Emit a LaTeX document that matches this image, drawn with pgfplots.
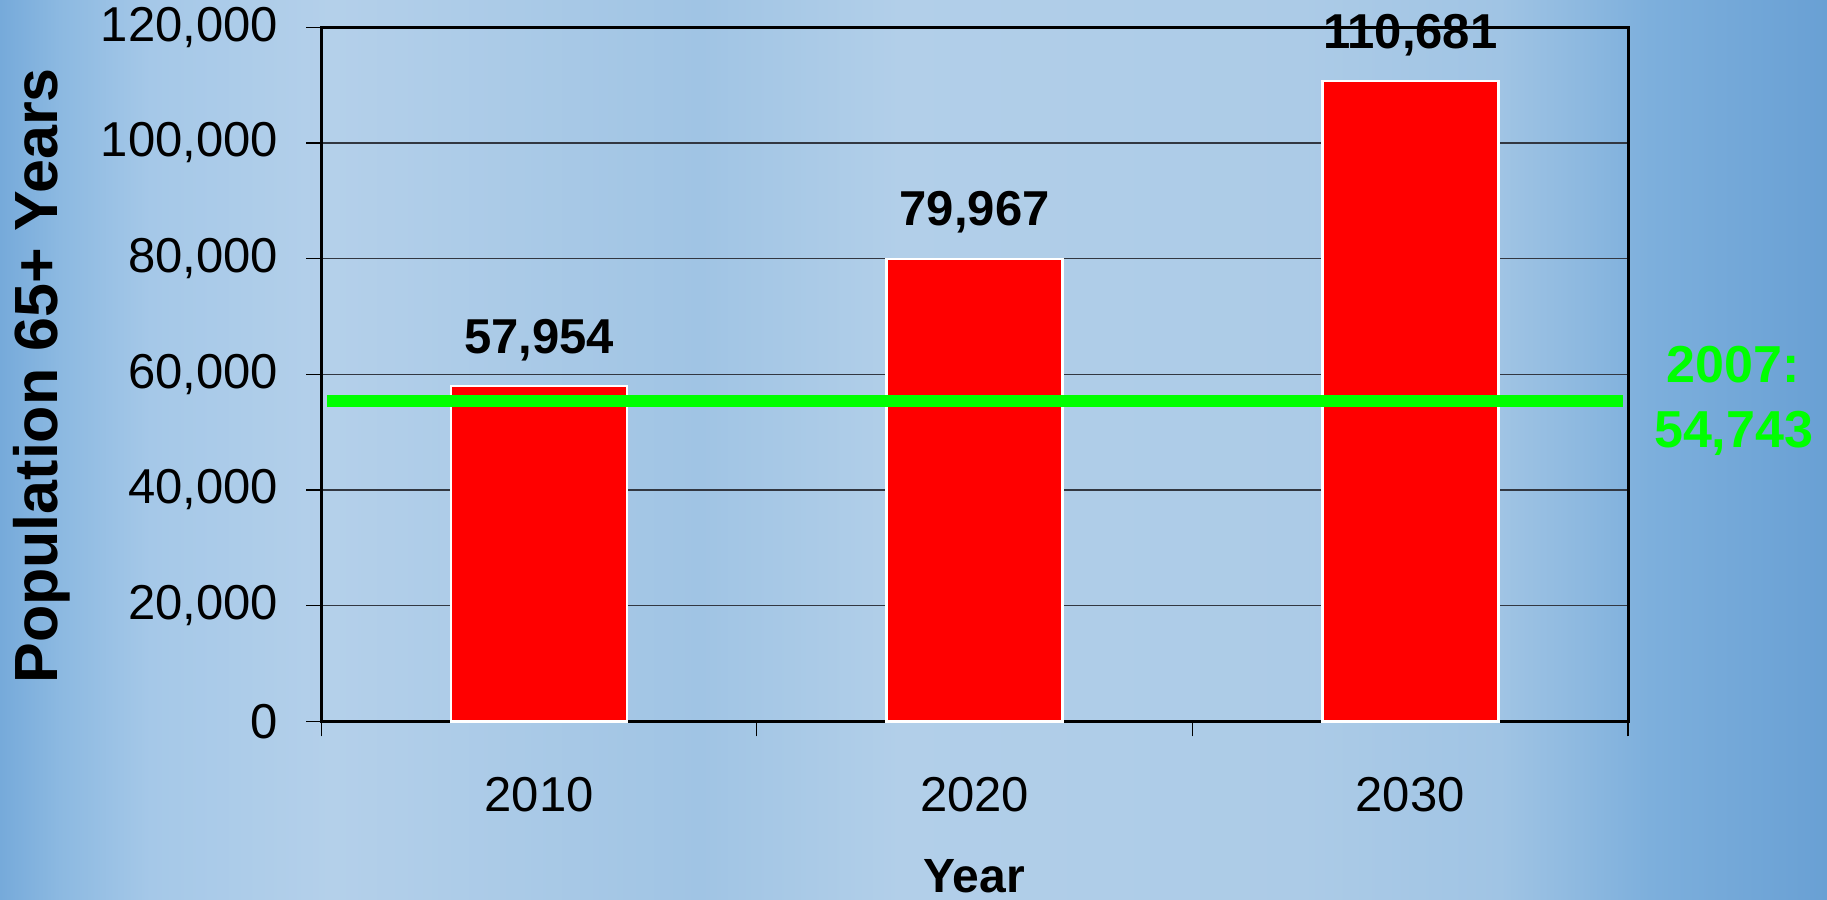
\documentclass[border=0pt]{standalone}
\usepackage{fontspec}
\setmainfont{Liberation Sans}
\usepackage{pgfplots}
\pgfplotsset{compat=1.18}
\definecolor{barred}{RGB}{255,0,0}
\definecolor{lgreen}{RGB}{0,255,0}
\definecolor{gridc}{RGB}{50,55,65}
\definecolor{b0}{RGB}{118,170,218}
\definecolor{b1}{RGB}{140,185,225}
\definecolor{b2}{RGB}{165,200,232}
\definecolor{b3}{RGB}{180,208,234}
\definecolor{b4}{RGB}{160,196,228}
\definecolor{b5}{RGB}{178,207,233}
\definecolor{b6}{RGB}{172,203,231}
\definecolor{b7}{RGB}{160,196,228}
\definecolor{b8}{RGB}{125,175,220}
\definecolor{b9}{RGB}{105,160,212}
\begin{document}
\begin{tikzpicture}
% background (pixel/2 = bp)
\shade[left color=b0,right color=b1] (0bp,0bp) rectangle (30bp,450bp);
\shade[left color=b1,right color=b2] (30bp,0bp) rectangle (75bp,450bp);
\shade[left color=b2,right color=b3] (75bp,0bp) rectangle (165bp,450bp);
\shade[left color=b3,right color=b4] (165bp,0bp) rectangle (350bp,450bp);
\shade[left color=b4,right color=b5] (350bp,0bp) rectangle (450bp,450bp);
\shade[left color=b5,right color=b6] (450bp,0bp) rectangle (650bp,450bp);
\shade[left color=b6,right color=b7] (650bp,0bp) rectangle (750bp,450bp);
\shade[left color=b7,right color=b8] (750bp,0bp) rectangle (825bp,450bp);
\shade[left color=b8,right color=b9] (825bp,0bp) rectangle (913.5bp,450bp);
\begin{axis}[
  at={(160.65bp,89.35bp)}, anchor=south west,
  scale only axis, width=653.35bp, height=347bp,
  xmin=-0.5, xmax=2.5, ymin=0, ymax=120000,
  axis line style={line width=1.5bp, black},
  tick align=outside, tick pos=left,
  xtick={0,1,2}, xticklabels={2010,2020,2030},
  major x tick style={draw=none},
  minor xtick={-0.5,0.5,1.5,2.5},
  minor tick length=7.5bp, major tick length=7.5bp,
  minor x tick style={black, line width=0.6bp},
  major y tick style={black, line width=0.6bp},
  ytick={0,20000,40000,60000,80000,100000,120000},
  yticklabels={0,{20,000},{40,000},{60,000},{80,000},{100,000},{120,000}},
  scaled y ticks=false,
  ymajorgrids, grid style={gridc, line width=0.75bp},
  tick label style={font=\fontsize{24.5bp}{29bp}\selectfont, black},
  yticklabel style={anchor=east, inner sep=0pt, xshift=-14bp},
  xticklabel style={anchor=base, inner sep=0pt, yshift=-37.5bp},
  clip=false,
]
\addplot[ybar, bar width=88bp, bar shift=0pt, fill=barred, draw=white, line width=1.3bp,
  point meta=explicit symbolic, nodes near coords,
  every node near coord/.append style={anchor=base, inner sep=0pt, yshift=16.5bp, font=\fontsize{24.5bp}{29bp}\selectfont\bfseries, black}]
  coordinates {(0,57954) [{57,954}] (1,79967) [{79,967}] (2,110681) [{110,681}]};
\addplot[lgreen, line width=6bp, line cap=butt, forget plot] coordinates {(-0.487,55300) (2.488,55300)};
\end{axis}
\node[rotate=90, anchor=base, inner sep=0pt, font=\fontsize{30.5bp}{36bp}\selectfont\bfseries] at (28.5bp,262bp) {Population 65+ Years};
\node[anchor=base, inner sep=0pt, font=\fontsize{24bp}{29bp}\selectfont\bfseries] at (487bp,4bp) {Year};
\node[anchor=base, inner sep=0pt, text=lgreen, font=\fontsize{26bp}{31bp}\selectfont\bfseries] at (866.5bp,258.5bp) {2007:};
\node[anchor=base, inner sep=0pt, text=lgreen, font=\fontsize{26bp}{31bp}\selectfont\bfseries] at (866.8bp,226.35bp) {54,743};
\pgfresetboundingbox
\useasboundingbox (0bp,0bp) rectangle (913.5bp,450bp);
\end{tikzpicture}
\end{document}
